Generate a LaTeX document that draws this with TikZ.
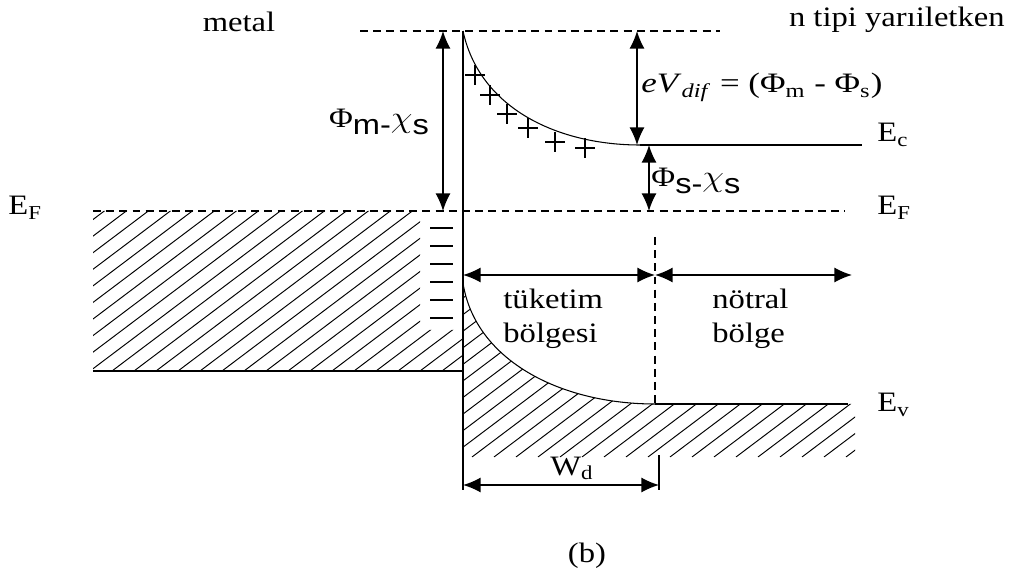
\documentclass[tikz,border=0pt]{standalone}
\usepackage{fontspec}
\setmainfont{Liberation Serif}
\newfontfamily\sansf{Liberation Sans}
\usetikzlibrary{arrows.meta,calc,positioning}
\newcommand{\lowsf}[1]{\raisebox{-0.22em}{\sansf #1}}
\tikzset{
  lbl/.style={font=\fontsize{16}{19}\selectfont, inner sep=0pt, xscale=1.16},
  band/.style={line width=0.8pt},
  fermi/.style={line width=0.8pt, dash pattern=on 4.5pt off 3pt},
  dbl/.style={line width=0.8pt, {Latex[length=10pt,width=8.5pt]}-{Latex[length=10pt,width=8.5pt]}},
  hatch/.style={line width=0.55pt}
}

\begin{document}
\begin{tikzpicture}
\useasboundingbox (0,0) rectangle (20.2,11.54);
% points
\coordinate (top) at (9.26,10.92);
\coordinate (bot) at (9.26,1.74);
\coordinate (ec) at (12.8,8.64);
\coordinate (ecend) at (17.24,8.64);
\coordinate (vtop) at (9.26,5.88);
\coordinate (ev) at (13.1,3.46);
\coordinate (evend) at (16.96,3.46);
\coordinate (mleft) at (1.86,4.12);
\coordinate (mright) at (9.26,4.12);

% hatch metal
\begin{scope}
\clip (1.86,7.32) -- (8.4,7.32) -- (8.4,4.94) -- (9.26,4.94) -- (9.26,4.12) -- (1.86,4.12) -- cycle;
\foreach \i in {0,...,27} \draw[hatch] (-2.6+\i*0.44,4.12) -- ++(37:6);
\end{scope}
% hatch semiconductor
\begin{scope}
\clip (vtop) .. controls (9.5,4.34) and (11.2,3.46) .. (ev) -- (17.1,3.46) -- (17.1,2.4) -- (9.26,2.4) -- cycle;
\foreach \i in {0,...,29} \draw[hatch] (4.6+\i*0.44,2.4) -- ++(37:6);
\end{scope}

% bands
\draw[fermi] (7.2,10.92) -- (14.4,10.92);
\draw[fermi] (1.86,7.32) -- (16.9,7.32);
\draw[band] (top) -- (bot);
\draw[band] (mleft) -- (mright);
\draw[line width=0.6pt] (top) .. controls (9.6,9.34) and (11.2,8.64) .. (ec);
\draw[band] (ec) -- (ecend);
\draw[line width=0.6pt] (vtop) .. controls (9.5,4.34) and (11.2,3.46) .. (ev);
\draw[band] (ev) -- (evend);
\draw[fermi] (13.1,6.8) -- (ev);

% charges
\foreach \k in {0,...,5} \draw[band] (8.6,6.98-\k*0.36) -- ++(0.46,0);
\foreach \x/\y in {9.5/10.04,9.8/9.64,10.14/9.26,10.56/8.98,11.1/8.7,11.7/8.58}
  \draw[line width=1pt] (\x-0.2,\y) -- (\x+0.2,\y) (\x,\y-0.2) -- (\x,\y+0.2);

% arrows
\coordinate (a1) at (8.86,10.92);
\coordinate (a2) at (8.86,7.32);
\coordinate (b1) at (12.74,10.92);
\coordinate (b2) at (12.74,8.64);
\coordinate (c1) at (12.98,8.64);
\coordinate (c2) at (12.98,7.32);
\coordinate (d1) at (9.26,6.04);
\coordinate (d2) at (13.1,6.04);
\coordinate (d3) at (17.04,6.04);
\coordinate (w1) at (9.26,1.84);
\coordinate (w2) at (13.18,1.84);
\draw[dbl] (a1) -- (a2);
\draw[dbl] (b1) -- (b2);
\draw[dbl] (c1) -- (c2);
\draw[dbl] (d1) -- (d2);
\draw[dbl] (d2) -- (d3);
\draw[dbl] (w1) -- (w2);
\draw[band] (13.18,2.44) -- (13.18,1.74);

% labels
\node[lbl,anchor=base] (metal) at (4.78,10.9) {metal};
\node[lbl,anchor=base east] (semi) at (20.1,11.0) {n tipi yarıiletken};
\node[lbl,anchor=base west] (efl) at (0.16,7.24) {E\textsubscript{F}};
\node[lbl,anchor=base west] (efr) at (17.54,7.24) {E\textsubscript{F}};
\node[lbl,anchor=base west] (eclbl) at (17.54,8.7) {E\textsubscript{c}};
\node[lbl,anchor=base west] (evlbl) at (17.54,3.3) {E\textsubscript{v}};
\node[lbl,anchor=base] (phim) at (7.58,8.98) {Φ\lowsf{m-}$\chi$\lowsf{s}};
\node[lbl,anchor=base west,xscale=1.07] (vdif) at (12.82,9.68) {\textit{eV}\textsubscript{\textit{dif}} = (Φ\textsubscript{m} - Φ\textsubscript{s})};
\node[lbl,anchor=base west] (phis) at (13.02,7.8) {Φ\lowsf{s-}$\chi$\lowsf{s}};
\node[lbl,anchor=north west,align=left] (tuk) at (10.06,5.76) {tüketim\\bölgesi};
\node[lbl,anchor=north west,align=left] (notr) at (14.24,5.76) {nötral\\bölge};
\node[lbl,anchor=base] (wd) at (11.44,2.04) {W\textsubscript{d}};
\node[lbl,anchor=base] (cap) at (11.74,0.3) {(b)};
\end{tikzpicture}
\end{document}
